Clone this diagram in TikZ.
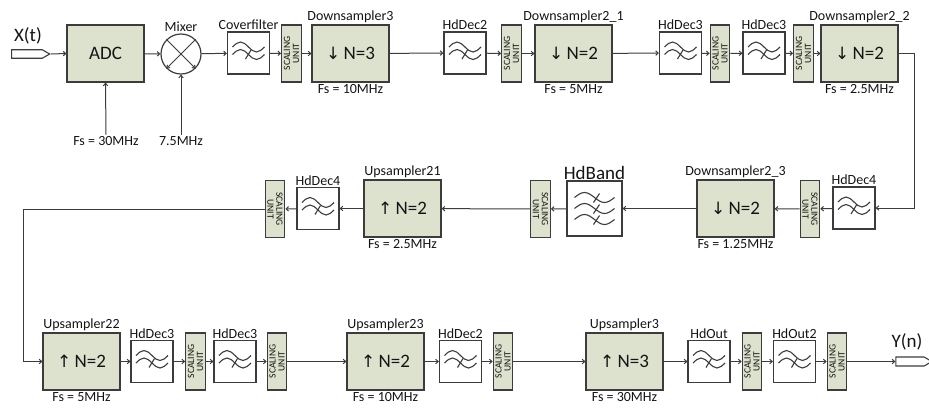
\documentclass[tikz,border=0pt]{standalone}
\usepackage{fontspec}
\setmainfont{Carlito}
\newfontfamily\dv{DejaVu Sans}
\usetikzlibrary{arrows.meta,shapes.symbols,positioning}
\definecolor{bfill}{RGB}{221,226,206}
\definecolor{bord}{RGB}{60,60,60}
\definecolor{txt}{RGB}{20,20,20}
\newcommand\SUnit[3]{\node[su] (#1) at (#2) {}; \node[sutxt,rotate=#3] (#1t) at (#1) {SCALING\\UNIT};}
\newcommand\Filt[2]{\node[filt] (#1) at (#2) {}; \pic at (#1) {twowave};}
\newcommand\DN{{\dv\fontsize{17}{18}\selectfont\char"2193}\,}
\newcommand\UP{{\dv\fontsize{17}{18}\selectfont\char"2191}\,}
\begin{document}
\begin{tikzpicture}[x=1pt,y=-1pt,
 blk/.style={draw=bord,fill=bfill,line width=1.2pt,minimum width=77pt,minimum height=57pt,inner sep=0pt,font=\fontsize{19}{21}\selectfont,text=txt},
 filt/.style={draw=bord,fill=white,line width=1.2pt,minimum width=42pt,minimum height=42pt,inner sep=0pt},
 su/.style={draw=bord,fill=bfill,line width=1.2pt,minimum width=19.5pt,minimum height=57pt,inner sep=0pt},
 sutxt/.style={font=\fontsize{9.6}{9}\selectfont,align=center,inner sep=0pt,text=txt},
 lbl/.style={font=\fontsize{14}{16}\selectfont,text=txt,inner sep=1.5pt},
 big/.style={font=\fontsize{19}{21}\selectfont,text=txt,inner sep=1pt},
 conn/.style={draw=bord,line width=1pt,-{Straight Barb[length=2.5pt,width=4.5pt]}},
 plain/.style={draw=bord,line width=1pt},
 sig/.style={draw=bord,line width=1.1pt,fill=white,signal,signal to=east,signal pointer angle=60,inner sep=0pt,minimum height=8.5pt},
 wv/.style={draw=bord,line width=1.1pt},
 twowave/.pic={
   \draw[wv] (-16,-6) sin (-8,-11) cos (0,-6) sin (8,-1) cos (16,-6);
   \draw[wv] (-16,1.5) sin (-8,-3.5) cos (0,1.5) sin (8,6.5) cos (16,1.5);
   \draw[wv] (-3,6) -- (2.5,-3);
 },
 threewave/.pic={
   \draw[wv] (-20,-11) sin (-10,-16) cos (0,-11) sin (10,-6) cos (20,-11);
   \draw[wv] (-20,0) sin (-10,-5) cos (0,0) sin (10,5) cos (20,0);
   \draw[wv] (-20,11) sin (-10,6) cos (0,11) sin (10,16) cos (20,11);
   \draw[wv] (-1,-6) -- (5,-15);
   \draw[wv] (-1,5) -- (5,-4);
   \draw[wv] (-1,16) -- (5,7);
 }
]
\useasboundingbox (0,0) rectangle (929,408);

% ---------------- Row 1 ----------------
\node[sig,minimum width=38pt] (inp) at (27,54) {};
\node[big] (xt) at (28,36) {X(t)};
\node[blk] (adc) at (105.5,53.5) {ADC};
\node[circle,draw=bord,line width=1.2pt,fill=white,minimum size=40pt,inner sep=0pt] (mix) at (181,54) {};
\draw[plain,-{Straight Barb[length=2.5pt,width=4pt]}] (mix.north west) -- (mix.south east);
\draw[plain,-{Straight Barb[length=2.5pt,width=4pt]}] (mix.north east) -- (mix.south west);
\node[lbl,above=0pt of mix] (mixt) {Mixer};
\node[lbl] (fsadc) at (106,141) {Fs = 30MHz};
\node[lbl] (f75) at (181,141) {7.5MHz};
\Filt{cover}{248.5,53}
\node[lbl,above=0pt of cover] (covert) {Coverfilter};
\SUnit{su1}{291.5,53.5}{90}
\node[blk] (ds3) at (350.5,53.5) {\DN N=3};
\node[lbl,above=0pt of ds3] (ds3t) {Downsampler3};
\node[lbl,below=0pt of ds3] (ds3f) {Fs = 10MHz};
\Filt{hd2}{465,53}
\node[lbl,above=0pt of hd2] (hd2t) {HdDec2};
\SUnit{su2}{511.5,53.5}{90}
\node[blk] (ds21) at (573.5,53.5) {\DN N=2};
\node[lbl,above=0pt of ds21] (ds21t) {Downsampler2\_1};
\node[lbl,below=0pt of ds21] (ds21f) {Fs = 5MHz};
\Filt{hd3a}{680.5,53}
\node[lbl,above=0pt of hd3a] (hd3at) {HdDec3};
\SUnit{su3}{720,53.5}{90}
\Filt{hd3b}{764,53}
\node[lbl,above=0pt of hd3b] (hd3bt) {HdDec3};
\SUnit{su4}{803.5,53.5}{90}
\node[blk] (ds22) at (859.5,53.5) {\DN N=2};
\node[lbl,above=0pt of ds22] (ds22t) {Downsampler2\_2};
\node[lbl,below=0pt of ds22] (ds22f) {Fs = 2.5MHz};

% ---------------- Row 2 ----------------
\Filt{hd4a}{854,208}
\node[lbl,above=0pt of hd4a] (hd4at) {HdDec4};
\SUnit{su5}{810,209}{-90}
\node[blk] (ds23) at (735.5,208.5) {\DN N=2};
\node[lbl,above=0pt of ds23] (ds23t) {Downsampler2\_3};
\node[lbl,below=0pt of ds23] (ds23f) {Fs = 1.25MHz};
\node[filt,minimum width=55pt,minimum height=55pt] (hdb) at (594.5,208.5) {};
\pic at (hdb) {threewave};
\node[big,above=0pt of hdb] (hdbt) {HdBand};
\SUnit{su6}{540.5,209}{-90}
\node[blk] (up21) at (402.5,208.5) {\UP N=2};
\node[lbl,above=0pt of up21] (up21t) {Upsampler21};
\node[lbl,below=0pt of up21] (up21f) {Fs = 2.5MHz};
\Filt{hd4b}{318,208.5}
\node[lbl,above=0pt of hd4b] (hd4bt) {HdDec4};
\SUnit{su7}{275,209}{-90}

% ---------------- Row 3 ----------------
\node[blk] (up22) at (81.5,361.5) {\UP N=2};
\node[lbl,above=0pt of up22] (up22t) {Upsampler22};
\node[lbl,below=0pt of up22] (up22f) {Fs = 5MHz};
\Filt{hd3c}{152,361.5}
\node[lbl,above=0pt of hd3c] (hd3ct) {HdDec3};
\SUnit{su8}{195.5,361.5}{90}
\Filt{hd3d}{235,361.5}
\node[lbl,above=0pt of hd3d] (hd3dt) {HdDec3};
\SUnit{su9}{277,361.5}{90}
\node[blk] (up23) at (385.5,361.5) {\UP N=2};
\node[lbl,above=0pt of up23] (up23t) {Upsampler23};
\node[lbl,below=0pt of up23] (up23f) {Fs = 10MHz};
\Filt{hd2b}{460.5,361.5}
\node[lbl,above=0pt of hd2b] (hd2bt) {HdDec2};
\SUnit{su10}{503,361.5}{90}
\node[blk] (up3) at (624.5,361.5) {\UP N=3};
\node[lbl,above=0pt of up3] (up3t) {Upsampler3};
\node[lbl,below=0pt of up3] (up3f) {Fs = 30MHz};
\Filt{hdout}{709,361.5}
\node[lbl,above=0pt of hdout] (hdoutt) {HdOut};
\SUnit{su11}{752,361.5}{90}
\Filt{hdout2}{794.5,361.5}
\node[lbl,above=0pt of hdout2] (hdout2t) {HdOut2};
\SUnit{su12}{837,361.5}{90}
\node[sig,minimum width=36pt,minimum height=9pt] (out) at (910,361.5) {};
\node[big] (yn) at (907,342) {Y(n)};

% ---------------- Connectors ----------------
\coordinate (rt) at (914,0);
\coordinate (lt) at (23,0);
\draw[conn] (fsadc.north) -- (adc.south);
\draw[conn] (f75.north) -- (mix.south);
\draw[conn] (inp.east) -- (adc.west);
\draw[conn] (adc) -- (mix);
\draw[conn] (mix) -- (cover);
\draw[conn] (cover) -- (su1);
\draw[conn] (su1) -- (ds3);
\draw[conn] (ds3) -- (hd2);
\draw[conn] (hd2) -- (su2);
\draw[conn] (su2) -- (ds21);
\draw[conn] (ds21) -- (hd3a);
\draw[conn] (hd3a) -- (su3);
\draw[conn] (su3) -- (hd3b);
\draw[conn] (hd3b) -- (su4);
\draw[conn] (su4) -- (ds22);
\draw[conn] (ds22.east) -- (ds22.east -| rt) |- (hd4a.east);
\draw[conn] (hd4a) -- (su5);
\draw[conn] (su5) -- (ds23);
\draw[conn] (ds23) -- (hdb);
\draw[conn] (hdb) -- (su6);
\draw[conn] (su6) -- (up21);
\draw[conn] (up21) -- (hd4b);
\draw[conn] (hd4b) -- (su7);
\draw[conn] (su7.west) -- (su7.west -| lt) |- (up22.west);
\draw[conn] (up22) -- (hd3c);
\draw[conn] (hd3c) -- (su8);
\draw[conn] (su8) -- (hd3d);
\draw[conn] (hd3d) -- (su9);
\draw[conn] (su9) -- (up23);
\draw[conn] (up23) -- (hd2b);
\draw[conn] (hd2b) -- (su10);
\draw[conn] (su10) -- (up3);
\draw[conn] (up3) -- (hdout);
\draw[conn] (hdout) -- (su11);
\draw[conn] (su11) -- (hdout2);
\draw[conn] (hdout2) -- (su12);
\draw[conn] (su12) -- (out.west);
\end{tikzpicture}
\end{document}
